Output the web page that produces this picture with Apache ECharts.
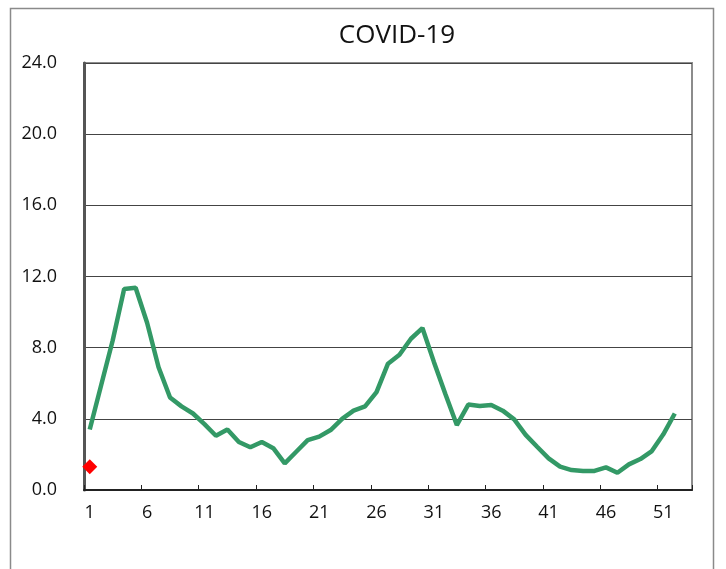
<!DOCTYPE html>
<html><head><meta charset="utf-8">
<script src="https://cdn.jsdelivr.net/npm/echarts@6/dist/echarts.min.js"></script>
<style>html,body{margin:0;padding:0;background:#fff}#c{width:726px;height:569px}</style>
</head><body><div id="c"></div>
<script>
const weeks = Array.from({length: 53}, (_, i) => String(i + 1));
const covid = [3.4, 5.9, 8.4, 11.3, 11.37, 9.4, 6.9, 5.2, 4.7, 4.3,
  3.7, 3.05, 3.4, 2.7, 2.4, 2.7, 2.35, 1.5, 2.15, 2.8,
  3.0, 3.37, 4.0, 4.46, 4.7, 5.5, 7.1, 7.6, 8.5, 9.1,
  7.2, 5.4, 3.65, 4.8, 4.72, 4.78, 4.46, 3.97, 3.1, 2.43,
  1.78, 1.31, 1.12, 1.07, 1.07, 1.27, 0.97, 1.44, 1.74, 2.19,
  3.13, 4.3, null];
const marker = [1.3].concat(Array(52).fill(null));
const yTicks = [0, 4, 8, 12, 16, 20, 24];
const FONT = "'Open Sans', 'DejaVu Sans', sans-serif";
const chart = echarts.init(document.getElementById('c'), null, {renderer: 'canvas'});
chart.setOption({
  animation: false,
  backgroundColor: '#fff',
  title: {text: 'COVID-19', left: 392, textAlign: 'center', top: 18,
    textStyle: {fontFamily: FONT, fontSize: 26, fontWeight: 'normal', color: '#111'}},
  graphic: [{type: 'rect', shape: {x: 10.5, y: 8.5, width: 703, height: 640},
    style: {fill: null, stroke: '#8a8a8a', lineWidth: 1.5}, silent: true}],
  grid: {left: 84, right: 34, top: 63, bottom: 79, show: true, borderColor: '#8c8c8c', borderWidth: 2},
  xAxis: {type: 'category', data: weeks, boundaryGap: true,
    axisLine: {lineStyle: {color: '#222', width: 2}},
    axisTick: {show: true, inside: true, length: 5, interval: 4, lineStyle: {color: '#222'}},
    axisLabel: {interval: 4, margin: 14, fontFamily: FONT, fontSize: 18, color: '#111'},
    splitLine: {show: false}},
  yAxis: {type: 'value', min: yTicks[0], max: yTicks[yTicks.length - 1], interval: 4,
    axisLine: {show: true, lineStyle: {color: '#555', width: 3}},
    axisTick: {show: false},
    axisLabel: {margin: 27, fontFamily: FONT, fontSize: 18, color: '#111',
      formatter: v => v.toFixed(1)},
    splitLine: {show: true, lineStyle: {color: '#444', width: 1}}},
  series: [
    {type: 'line', data: covid, symbol: 'none', connectNulls: false,
      lineStyle: {color: '#339966', width: 4.5}, z: 3},
    {type: 'line', data: marker, symbol: 'diamond', symbolSize: 15,
      itemStyle: {color: '#ff0000'}, lineStyle: {width: 0}, z: 4}
  ]
});
</script></body></html>
